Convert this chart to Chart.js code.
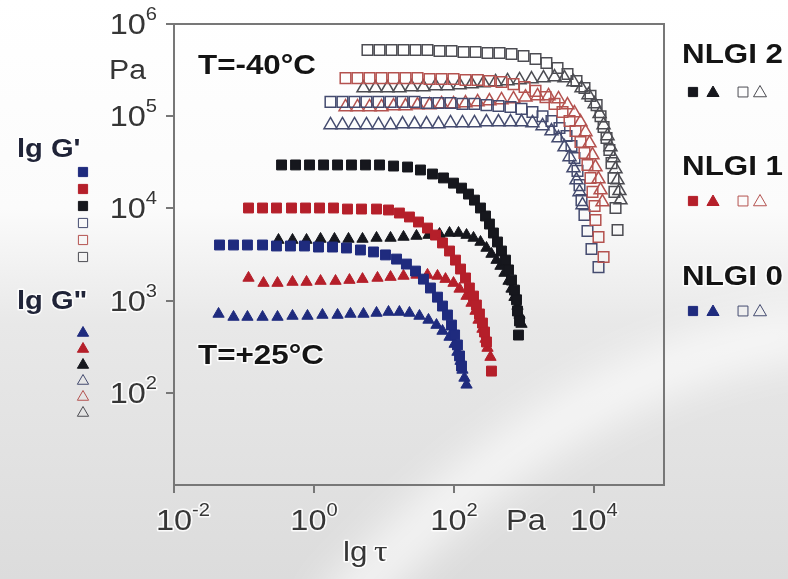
<!DOCTYPE html>
<html>
<head>
<meta charset="utf-8">
<script src="https://cdn.jsdelivr.net/npm/chart.js@4.4.1/dist/chart.umd.min.js"></script>
<style>
  html, body { margin: 0; padding: 0; background: #fff; }
</style>
</head>
<body>
<canvas id="miGrafico" width="788" height="579"></canvas>
<script>
// lg tau (Pa) und G', G'' (Pa)
// +25 °C, gefuellte Symbole
const tauG1_N2 = [0.344, 0.545, 0.863, 1.37, 2.17, 3.43, 5.44, 8.63, 13.7, 21.7, 33.2, 49.3, 70.8, 98.4, 128, 161, 196, 239, 282, 321, 366, 418, 477, 544, 601, 663, 731, 782, 807, 863, 834];
const G1_N2 = [29600, 29600, 29600, 29600, 29600, 29600, 29600, 29600, 28800, 28100, 26100, 23600, 21400, 18800, 16600, 14300, 12300, 10100, 8270, 6770, 5410, 4320, 3450, 2750, 2150, 1670, 1300, 1020, 771, 601, 423];

const tauG2_N2 = [0.311, 0.493, 0.782, 1.24, 1.96, 3.11, 4.93, 7.82, 12.4, 19.0, 29.1, 43.2, 62.1, 86.3, 116, 151, 190, 239, 291, 343, 405, 461, 526, 601, 663, 731, 807, 863, 921];
const G2_N2 = [4540, 4540, 4540, 4660, 4660, 4660, 4660, 4780, 4780, 4900, 5020, 5140, 5270, 5410, 5410, 5140, 4780, 4320, 3720, 3200, 2750, 2370, 1990, 1630, 1340, 1090, 873, 698, 557];

const tauG1_N1 = [0.116, 0.184, 0.291, 0.477, 0.757, 1.20, 1.90, 3.01, 4.77, 7.82, 11.6, 16.6, 23.1, 31.1, 41.8, 54.4, 68.5, 86.3, 105, 124, 146, 166, 190, 209, 231, 255, 273, 291, 343];
const G1_N1 = [10100, 10100, 10100, 10100, 10100, 10100, 10100, 9840, 9840, 9840, 9610, 8910, 8070, 7120, 6120, 5140, 4220, 3450, 2750, 2200, 1760, 1370, 1120, 896, 716, 571, 456, 356, 172];

const tauG2_N1 = [0.116, 0.190, 0.301, 0.493, 0.782, 1.24, 2.03, 3.21, 4.93, 8.07, 12.4, 19.0, 29.1, 41.8, 58.1, 75.6, 98.4, 120, 151, 178, 203, 224, 255, 282, 301, 332];
const G2_N1 = [1760, 1550, 1550, 1590, 1590, 1630, 1630, 1670, 1710, 1760, 1800, 1850, 1900, 1900, 1850, 1710, 1550, 1340, 1120, 942, 771, 617, 492, 384, 306, 244];

const tauG1_N0 = [0.0447, 0.0708, 0.112, 0.184, 0.291, 0.461, 0.731, 1.16, 1.84, 2.91, 4.61, 7.08, 10.5, 15.1, 20.9, 28.2, 36.6, 46.1, 58.1, 68.5, 80.7, 92.1, 102, 112, 120, 128];
const G1_N0 = [4010, 4010, 4010, 4010, 3910, 3910, 3910, 3810, 3810, 3720, 3540, 3370, 3130, 2820, 2490, 2090, 1710, 1370, 1090, 873, 698, 543, 424, 330, 251, 195];

const tauG2_N0 = [0.0433, 0.0708, 0.112, 0.184, 0.301, 0.493, 0.807, 1.32, 2.17, 3.32, 5.09, 7.82, 11.6, 16.6, 23.1, 32.1, 43.2, 56.2, 68.5, 86.3, 102, 112, 124, 132, 141, 151];
const G2_N0 = [716, 664, 664, 664, 664, 681, 681, 698, 698, 716, 716, 734, 752, 752, 734, 681, 617, 543, 468, 403, 338, 277, 221, 177, 145, 122];

// -40 °C, offene Symbole
const tauG1_N2k = [5.81, 8.63, 12.8, 19.0, 28.2, 41.8, 62.1, 92.1, 137, 203, 301, 447, 663, 984, 1460, 2090, 3010, 4180, 5620, 7310, 8910, 10900, 12400, 13700, 15100, 16600, 17800, 19000, 19600, 20300, 21700];
const G1_N2k = [522000, 522000, 522000, 522000, 522000, 522000, 509000, 509000, 497000, 497000, 484000, 484000, 473000, 450000, 417000, 378000, 333000, 287000, 241000, 202000, 166000, 132000, 100000, 76400, 58000, 43000, 31000, 21400, 15100, 10100, 5830];

const tauG2_N2k = [5.09, 7.56, 11.2, 16.6, 24.7, 36.6, 54.4, 80.7, 120, 178, 264, 392, 581, 863, 1280, 1900, 2730, 3790, 5090, 6630, 8340, 10200, 12000, 13700, 15600, 17200, 19000, 20300, 21700, 23100, 23900];
const G2_N2k = [202000, 202000, 202000, 202000, 207000, 207000, 213000, 213000, 218000, 223000, 229000, 235000, 241000, 247000, 253000, 259000, 266000, 259000, 235000, 202000, 170000, 136000, 106000, 80300, 61000, 46300, 35200, 26700, 20300, 15500, 12300];

const tauG1_N1k = [2.82, 4.18, 6.21, 9.21, 13.7, 20.3, 30.1, 44.7, 66.3, 98.4, 146, 217, 321, 477, 708, 1020, 1460, 2030, 2730, 3550, 4470, 5440, 6410, 7310, 8070, 8910, 9520, 10200, 10500, 11600, 13700];
const G1_N1k = [259000, 259000, 259000, 259000, 259000, 259000, 259000, 253000, 253000, 253000, 247000, 247000, 241000, 235000, 223000, 207000, 188000, 161000, 136000, 111000, 88700, 69100, 52500, 39900, 29600, 21400, 15100, 10600, 7480, 4900, 2970];

const tauG2_N1k = [2.82, 4.18, 6.21, 9.21, 13.7, 20.3, 30.1, 44.7, 66.3, 98.4, 146, 217, 321, 477, 708, 1050, 1560, 2240, 3110, 4180, 5260, 6410, 7560, 8630, 9520, 10500, 11600, 12400, 13200];
const G2_N1k = [126000, 126000, 126000, 126000, 129000, 129000, 132000, 132000, 136000, 136000, 139000, 143000, 146000, 150000, 154000, 161000, 166000, 166000, 154000, 132000, 108000, 86500, 67400, 51200, 37900, 28100, 20800, 15800, 11700];

const tauG1_N0k = [1.72, 2.55, 3.79, 5.62, 8.34, 12.4, 18.4, 27.3, 40.5, 60.1, 89.1, 132, 196, 291, 432, 641, 921, 1320, 1840, 2470, 3210, 4050, 4770, 5260, 5810, 6210, 6630, 7310, 8070, 9210, 11600];
const G1_N0k = [143000, 143000, 143000, 143000, 143000, 143000, 143000, 143000, 139000, 139000, 139000, 136000, 136000, 132000, 129000, 126000, 120000, 111000, 100000, 88700, 74500, 61000, 47500, 35200, 25500, 17900, 12300, 8480, 5690, 3630, 2310];

const tauG2_N0k = [1.72, 2.55, 3.79, 5.62, 8.34, 12.4, 18.4, 27.3, 40.5, 60.1, 89.1, 132, 196, 291, 432, 641, 921, 1320, 1840, 2470, 3110, 3790, 4470, 5090, 5620, 6210, 6850];
const G2_N0k = [80300, 80300, 80300, 80300, 80300, 80300, 82200, 82200, 82200, 82200, 84400, 84400, 84400, 86500, 86500, 86500, 86500, 84400, 78300, 69100, 58000, 46300, 36100, 27400, 20300, 15100, 10900];

// Achsen
const ticksX = [1e-2, 1e0, 1e2, 1e4];
const expX = ['-2', '0', '2', '4'];
const ticksY = [1e2, 1e3, 1e4, 1e5, 1e6];
const expY = ['2', '3', '4', '5', '6'];

const azul = '#1f2b7e', rojo = '#b51f2a', negro = '#16171d';
const grisO = '#4c4c52', rojoO = '#b4524f', azulO = '#444b6f';
const fuente = '"Liberation Sans", Arial, sans-serif';

function pares(xs, ys) {
  return xs.map((x, i) => ({ x: x, y: ys[i] }));
}

function serie(label, xs, ys, forma, color, lleno) {
  return {
    label: label,
    data: pares(xs, ys),
    showLine: false,
    pointStyle: forma,
    pointRadius: forma === 'rect' ? (lleno ? 7 : 7.5) : (lleno ? 6.5 : 7.5),
    pointBorderWidth: lleno ? 1 : 1.5,
    pointBorderColor: color,
    pointBackgroundColor: lleno ? color : 'rgba(0,0,0,0)'
  };
}

const datos = [
  serie("G' NLGI 2 -40", tauG1_N2k, G1_N2k, 'rect', grisO, false),
  serie("G' NLGI 1 -40", tauG1_N1k, G1_N1k, 'rect', rojoO, false),
  serie("G' NLGI 0 -40", tauG1_N0k, G1_N0k, 'rect', azulO, false),
  serie("G'' NLGI 2 -40", tauG2_N2k, G2_N2k, 'triangle', grisO, false),
  serie("G'' NLGI 1 -40", tauG2_N1k, G2_N1k, 'triangle', rojoO, false),
  serie("G'' NLGI 0 -40", tauG2_N0k, G2_N0k, 'triangle', azulO, false),
  serie("G' NLGI 0 +25", tauG1_N0, G1_N0, 'rect', azul, true),
  serie("G' NLGI 1 +25", tauG1_N1, G1_N1, 'rect', rojo, true),
  serie("G' NLGI 2 +25", tauG1_N2, G1_N2, 'rect', negro, true),
  serie("G'' NLGI 0 +25", tauG2_N0, G2_N0, 'triangle', azul, true),
  serie("G'' NLGI 1 +25", tauG2_N1, G2_N1, 'triangle', rojo, true),
  serie("G'' NLGI 2 +25", tauG2_N2, G2_N2, 'triangle', negro, true)
];

// Text leicht in die Breite gezogen wie im Original
function texto(ctx, s, x, y, font, color, align) {
  ctx.save();
  ctx.font = font;
  ctx.textBaseline = 'middle';
  ctx.textAlign = align || 'left';
  ctx.translate(x, y);
  ctx.scale(1.12, 1);
  ctx.lineJoin = 'round';
  ctx.lineWidth = 3;
  ctx.strokeStyle = 'rgba(255,255,255,0.85)';
  ctx.strokeText(s, 0, 0);
  ctx.fillStyle = color;
  ctx.fillText(s, 0, 0);
  const w = ctx.measureText(s).width * 1.12;
  ctx.restore();
  return w;
}

function ancho(ctx, s, font) {
  ctx.save();
  ctx.font = font;
  const w = ctx.measureText(s).width * 1.12;
  ctx.restore();
  return w;
}

const f10 = '29px ' + fuente, fExp = '18px ' + fuente;
const colTxt = '#363636';

function potencia(ctx, e, x, y) {
  const w = texto(ctx, '10', x, y, f10, colTxt);
  texto(ctx, e, x + w, y - 11, fExp, colTxt);
}

function marca(ctx, forma, color, lleno, x, y, r) {
  ctx.save();
  ctx.strokeStyle = color;
  ctx.fillStyle = lleno ? color : 'rgba(0,0,0,0)';
  Chart.helpers.drawPoint(ctx, { pointStyle: forma, radius: r, borderWidth: lleno ? 1 : 1.4 }, x, y);
  ctx.restore();
}

const fondo = {
  id: 'fondo',
  beforeDraw(chart) {
    const ctx = chart.ctx;
    ctx.save();
    const g = ctx.createLinearGradient(0, 0, 0, 579);
    g.addColorStop(0, '#ffffff');
    g.addColorStop(0.36, '#fbfbfb');
    g.addColorStop(0.56, '#e8e8e8');
    g.addColorStop(1, '#dcdcdc');
    ctx.fillStyle = g;
    ctx.fillRect(0, 0, chart.width, chart.height);
    ctx.filter = 'blur(22px)';
    ctx.strokeStyle = 'rgba(255,255,255,0.75)';
    ctx.lineWidth = 45;
    ctx.beginPath();
    ctx.moveTo(330, 620);
    ctx.quadraticCurveTo(560, 360, 820, 330);
    ctx.stroke();
    ctx.restore();
  }
};

const rotulos = {
  id: 'rotulos',
  afterDraw(chart) {
    const ctx = chart.ctx;
    const a = chart.chartArea;
    const sx = chart.scales.x, sy = chart.scales.y;

    // Rahmen
    ctx.save();
    ctx.strokeStyle = '#777';
    ctx.lineWidth = 2;
    ctx.strokeRect(a.left, a.top, a.right - a.left, a.bottom - a.top);
    ctx.restore();

    // y-Beschriftung
    ticksY.forEach((v, i) => {
      const y = sy.getPixelForValue(v);
      const w = ancho(ctx, '10', f10) + ancho(ctx, expY[i], fExp);
      potencia(ctx, expY[i], 157 - w, y + 2);
    });
    texto(ctx, 'Pa', 109, 72, '27px ' + fuente, colTxt);

    // x-Beschriftung
    ticksX.forEach((v, i) => {
      const x = sx.getPixelForValue(v);
      const w = ancho(ctx, '10', f10) + ancho(ctx, expX[i], fExp);
      potencia(ctx, expX[i], x - w / 2 + (i === 0 ? 9 : 0), 522);
    });
    texto(ctx, 'Pa', 506, 522, '29px ' + fuente, colTxt);
    const wl = texto(ctx, 'lg ', 343, 553, '28px ' + fuente, colTxt);
    texto(ctx, 'τ', 343 + wl - 2, 553, '30px "Liberation Serif", serif', colTxt);

    // Temperaturen
    const fB = 'bold 28px ' + fuente;
    texto(ctx, 'T=-40°C', 198, 66, fB, '#141414');
    texto(ctx, 'T=+25°C', 198, 356, fB, '#141414');

    // Legende links
    const fL = 'bold 26px ' + fuente;
    texto(ctx, "lg G'", 17, 150, fL, '#202438');
    texto(ctx, 'lg G"', 17, 302, fL, '#202438');
    const cuad = [[azul, true], [rojo, true], [negro, true], [azulO, false], [rojoO, false], [grisO, false]];
    cuad.forEach((c, i) => marca(ctx, 'rect', c[0], c[1], 83, 172 + i * 17, 6.5));
    cuad.forEach((c, i) => marca(ctx, 'triangle', c[0], c[1], 83, 333 + i * 16, 6.5));

    // Legende rechts
    const grupos = [['NLGI 2', negro, grisO, 55, 92], ['NLGI 1', rojo, rojoO, 167, 201], ['NLGI 0', azul, azulO, 277, 311]];
    grupos.forEach(gr => {
      texto(ctx, gr[0], 682, gr[3], 'bold 28px ' + fuente, '#141414');
      marca(ctx, 'rect', gr[1], true, 693, gr[4], 6.5);
      marca(ctx, 'triangle', gr[1], true, 713, gr[4] + 1, 7);
      marca(ctx, 'rect', gr[2], false, 743, gr[4], 7);
      marca(ctx, 'triangle', gr[2], false, 760, gr[4] + 1, 7.5);
    });
  }
};

const contenedor = document.getElementById('miGrafico');
const miGrafico = new Chart(contenedor, {
  type: 'scatter',
  data: { datasets: datos },
  options: {
    responsive: false,
    animation: false,
    layout: { padding: { left: 166, right: 124, top: 24, bottom: 86 } },
    plugins: { legend: { display: false }, tooltip: { enabled: false } },
    scales: {
      x: {
        type: 'logarithmic',
        min: 1e-2,
        max: 1e5,
        afterBuildTicks: s => { s.ticks = ticksX.map(v => ({ value: v })); },
        ticks: { display: false },
        grid: { drawOnChartArea: false, tickLength: 8, color: '#777', lineWidth: 2 },
        border: { color: '#777', width: 2 }
      },
      y: {
        type: 'logarithmic',
        min: 1e1,
        max: 1e6,
        afterBuildTicks: s => { s.ticks = ticksY.map(v => ({ value: v })); },
        ticks: { display: false },
        grid: { drawOnChartArea: false, tickLength: 8, color: '#777', lineWidth: 2 },
        border: { color: '#777', width: 2 }
      }
    }
  },
  plugins: [fondo, rotulos]
});
</script>
</body>
</html>
